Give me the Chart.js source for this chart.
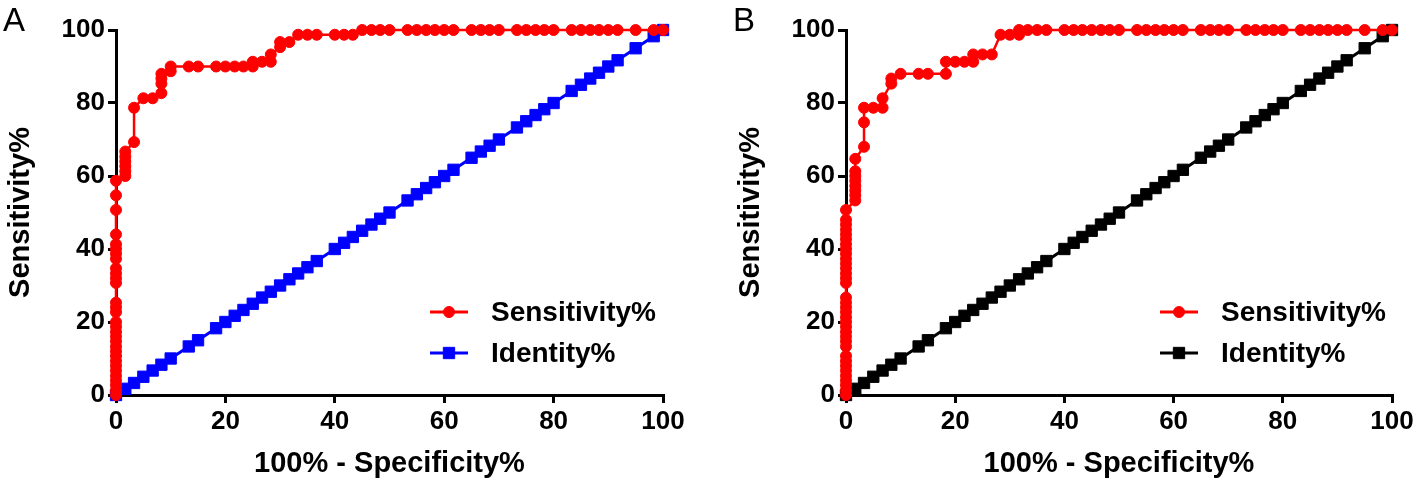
<!DOCTYPE html>
<html>
<head>
<meta charset="utf-8">
<script src="https://cdn.jsdelivr.net/npm/chart.js@4.4.0/dist/chart.umd.min.js"></script>
<style>
  html, body { margin: 0; padding: 0; background: #fff; overflow: hidden; }
  #wrap { position: relative; width: 1418px; height: 482px; }
  .panel { position: absolute; top: 0; }
</style>
</head>
<body>
<div id="wrap">
  <canvas id="chartA" class="panel" style="left:0" width="700" height="482"></canvas>
  <canvas id="chartB" class="panel" style="left:730px" width="688" height="482"></canvas>
</div>
<script>
// axis ticks (both panels)
const tickValues = [0, 20, 40, 60, 80, 100];

// panel A ROC: 100% - specificity% and sensitivity%
const rocAFpr = [
  0,0,0,0,0,0,0,0,0,0,0,0,0,0,0,0,0,0,0,0,0,0,0,0,0,0,0,0,0,0,0,
  1.7,1.7,1.7,1.7,1.7,1.7, 3.3,3.3, 5, 6.7, 8.3,8.3,8.3,8.3, 10,10,
  13.3,15,18.3,20,21.7,23.3,25,25,26.7,28.3,28.3,30,30,31.7,33.3,35,36.7,40,41.7,43.3,
  45,46.7,48.3,50,53.3,55,56.7,58.3,60,61.7,65,66.7,68.3,70,73.3,75,76.7,78.3,80,
  83.3,85,86.7,88.3,90,91.7,95,98.3,100
];
const rocASens = [
  0,1.3,2.7,4,5.3,6.7,8,9.3,10.7,12,13.3,14.7,16,17.3,18.7,20,22.7,24,25.3,30.7,32,33.3,34.7,37.3,38.7,40,41.3,44,50.7,54.7,58.7,
  60,61.3,62.7,64,65.3,66.7, 69.3,78.7, 81.3, 81.3, 82.7,85.3,86.7,88, 88.7,90,
  90,90,90,90,90,90,90,91.3,91.3,91.3,93.3,95.3,96.7,96.7,98.7,98.7,98.7,98.7,98.7,98.7,
  100,100,100,100,100,100,100,100,100,100,100,100,100,100,100,100,100,100,100,
  100,100,100,100,100,100,100,100,100
];

// panel B ROC
const rocBFpr = [
  0,0,0,0,0,0,0,0,0,0,0,0,0,0,0,0,0,0,0,0,0,0,0,0,0,0,0,0,0,0,0,0,0,0,0,
  1.7,1.7,1.7,1.7,1.7,1.7,1.7,1.7, 3.3,3.3,3.3, 5, 6.7,6.7, 8.3,8.3, 10,
  13.3,15,18.3,18.3,20,21.7,23.3,23.3,25,26.7,28.3,30,31.7,31.7,
  33.3,35,36.7,40,41.7,43.3,45,46.7,48.3,50,53.3,55,56.7,58.3,60,61.7,65,66.7,68.3,70,
  73.3,75,76.7,78.3,80,83.3,85,86.7,88.3,90,91.7,95,98.3,100
];
const rocBSens = [
  0,1.3,2.7,4,5.3,6.7,8,9.3,10.7,13.3,14.7,16,17.3,18.7,20,21.3,22.7,24,25.3,26.7,30.7,32,33.3,34.7,36,37.3,38.7,40,41.3,42.7,44,45.3,46.7,48,50.7,
  53.3,54.7,56,57.3,58.7,60,61.3,64.7, 68,74.7,78.7, 78.7, 78.7,81.3, 85.3,86.7, 88,
  88,88,88,91.3,91.3,91.3,91.3,93.3,93.3,93.3,98.7,98.7,98.7,100,
  100,100,100,100,100,100,100,100,100,100,100,100,100,100,100,100,100,100,100,100,
  100,100,100,100,100,100,100,100,100,100,100,100,100,100
];

// identity line, drawn at the same 100% - specificity% steps
const identityPct = [
  0,1.7,3.3,5,6.7,8.3,10,13.3,15,18.3,20,21.7,23.3,25,26.7,28.3,30,31.7,33.3,35,36.7,
  40,41.7,43.3,45,46.7,48.3,50,53.3,55,56.7,58.3,60,61.7,65,66.7,68.3,70,73.3,75,76.7,
  78.3,80,83.3,85,86.7,88.3,90,91.7,95,98.3,100
];

const FONT = "'Liberation Sans', Arial, sans-serif";

// legend drawn inside the plot, lower right
const innerLegend = {
  id: "innerLegend",
  afterDatasetsDraw(chart, args, opts) {
    const ctx = chart.ctx;
    ctx.save();
    chart.data.datasets.forEach((ds, i) => {
      const y = opts.y + i * opts.gap;
      ctx.strokeStyle = ds.borderColor;
      ctx.fillStyle = ds.backgroundColor;
      ctx.lineWidth = 3;
      ctx.beginPath();
      ctx.moveTo(opts.x, y);
      ctx.lineTo(opts.x + 38, y);
      ctx.stroke();
      ctx.lineWidth = 1;
      Chart.helpers.drawPoint(ctx, {
        pointStyle: ds.pointStyle, radius: ds.pointRadius, rotation: 0, borderWidth: 1
      }, opts.x + 19, y);
      ctx.fillStyle = "#000";
      ctx.font = "bold 28px " + FONT;
      ctx.textBaseline = "middle";
      ctx.textAlign = "left";
      ctx.fillText(ds.label, opts.x + 61, y + 1);
    });
    ctx.restore();
  }
};

// panel letter, top-left corner
const panelLetter = {
  id: "panelLetter",
  afterDraw(chart, args, opts) {
    const ctx = chart.ctx;
    ctx.save();
    ctx.fillStyle = "#000";
    ctx.font = "33px " + FONT;
    ctx.textBaseline = "alphabetic";
    ctx.fillText(opts.text, 3, 31);
    ctx.restore();
  }
};

function axis(titleText, isX) {
  return {
    type: "linear",
    min: 0,
    max: 100,
    afterBuildTicks: (s) => { s.ticks = tickValues.map((v) => ({ value: v })); },
    afterFit: (s) => { if (isX) s.height = 87; else s.width = 116; },
    ticks: {
      color: "#000",
      padding: 3,
      maxRotation: 0,
      font: { family: FONT, size: 26, weight: "bold" }
    },
    grid: {
      drawOnChartArea: false,
      drawTicks: true,
      tickLength: 8,
      color: "#000",
      lineWidth: 3
    },
    border: { display: true, color: "#000", width: 3 },
    title: {
      display: true,
      text: titleText,
      color: "#000",
      font: { family: FONT, size: 29, weight: "bold" },
      padding: isX ? { top: 0, bottom: 1 } : { top: 4, bottom: 0 }
    }
  };
}

function makeChart(id, letter, fpr, sens, identityColor, rightPad) {
  const ctx = document.getElementById(id).getContext("2d");
  return new Chart(ctx, {
    type: "scatter",
    data: {
      datasets: [
        {
          label: "Sensitivity%",
          data: fpr.map((x, i) => ({ x: x, y: sens[i] })),
          showLine: true,
          borderColor: "#ff0000",
          backgroundColor: "#ff0000",
          borderWidth: 2.5,
          pointStyle: "circle",
          pointRadius: 5.5,
          pointBorderWidth: 1,
          clip: false,
          order: 0
        },
        {
          label: "Identity%",
          data: identityPct.map((v) => ({ x: v, y: v })),
          showLine: true,
          borderColor: identityColor,
          backgroundColor: identityColor,
          borderWidth: 3,
          pointStyle: "rect",
          pointRadius: 8,
          pointBorderWidth: 1,
          clip: false,
          order: 1
        }
      ]
    },
    options: {
      responsive: false,
      animation: false,
      layout: { padding: { top: 30, right: rightPad, left: 0, bottom: 0 } },
      scales: {
        x: axis("100% - Specificity%", true),
        y: axis("Sensitivity%", false)
      },
      plugins: {
        legend: { display: false },
        tooltip: { enabled: false },
        innerLegend: { x: 430, y: 312, gap: 41 },
        panelLetter: { text: letter }
      }
    },
    plugins: [innerLegend, panelLetter]
  });
}

makeChart("chartA", "A", rocAFpr, rocASens, "#0000ff", 37);
makeChart("chartB", "B", rocBFpr, rocBSens, "#000000", 26);
</script>
</body>
</html>
